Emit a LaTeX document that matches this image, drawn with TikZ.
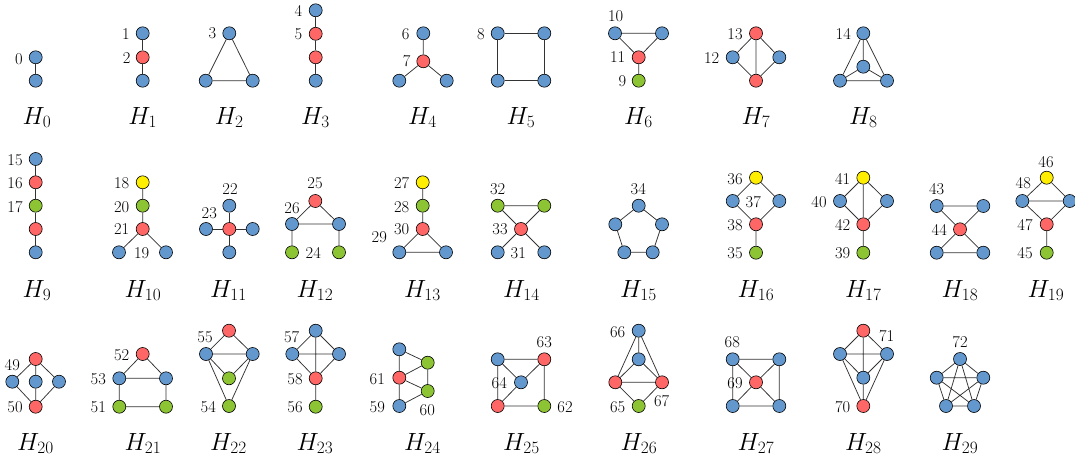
\documentclass[tikz,border=0pt]{standalone}
\definecolor{nblue}{RGB}{99,152,206}
\definecolor{nred}{RGB}{255,102,102}
\definecolor{ngreen}{RGB}{141,196,52}
\definecolor{nyellow}{RGB}{255,238,0}
\begin{document}
\begin{tikzpicture}[x=1pt,y=-1pt,
  vx/.style={circle,draw=black,line width=0.6pt,minimum size=13pt,inner sep=0pt},
  bl/.style={vx,fill=nblue},
  rd/.style={vx,fill=nred},
  gr/.style={vx,fill=ngreen},
  yl/.style={vx,fill=nyellow},
  ed/.style={draw=black!80,line width=0.75pt},
  nl/.style={inner sep=0pt,font=\fontsize{16.5}{17}\selectfont},
  hl/.style={inner sep=0pt,anchor=base,font=\fontsize{25}{25}\selectfont}]
\useasboundingbox (0,0) rectangle (1075,460);
% ---------- Row 1 ----------
% H0
\node[bl] (h0a) at (35.7,57.3) {}; \node[bl] (h0b) at (35.7,80.7) {};
\draw[ed] (h0a)--(h0b);
\node[nl] (l0) at (19,59.3) {0};
\node[hl] (H0) at (37,124) {$H_{0}$};
% H1
\node[bl] (h1a) at (142.7,33.3) {}; \node[rd] (h1b) at (142.7,57.3) {}; \node[bl] (h1c) at (142.7,80.7) {};
\draw[ed] (h1a)--(h1b)--(h1c);
\node[nl] (l1) at (126,34) {1}; \node[nl] (l2) at (126.7,58.3) {2};
\node[hl] (H1) at (142.7,124) {$H_{1}$};
% H2
\node[bl] (h2a) at (229.3,33.3) {}; \node[bl] (h2b) at (205.7,80.7) {}; \node[bl] (h2c) at (252.7,80.7) {};
\draw[ed] (h2a)--(h2b)--(h2c)--(h2a);
\node[nl] (l3) at (212.3,33.3) {3};
\node[hl] (H2) at (229.3,124) {$H_{2}$};
% H3
\node[bl] (h3a) at (315.7,10.3) {}; \node[rd] (h3b) at (315.7,33.8) {}; \node[rd] (h3c) at (315.7,57.3) {}; \node[bl] (h3d) at (315.7,80.7) {};
\draw[ed] (h3a)--(h3b)--(h3c)--(h3d);
\node[nl] (l4) at (298.3,10.7) {4}; \node[nl] (l5) at (298.3,34.3) {5};
\node[hl] (H3) at (315.5,124) {$H_{3}$};
% H4
\node[bl] (h4a) at (423.3,33.3) {}; \node[rd] (h4b) at (423.3,61.3) {}; \node[bl] (h4c) at (399.3,80.7) {}; \node[bl] (h4d) at (446.7,80.7) {};
\draw[ed] (h4a)--(h4b) (h4b)--(h4c) (h4b)--(h4d);
\node[nl] (l6) at (405.7,34.3) {6}; \node[nl] (l7) at (406.7,61) {7};
\node[hl] (H4) at (422.5,124) {$H_{4}$};
% H5
\node[bl] (h5a) at (497.7,33.3) {}; \node[bl] (h5b) at (544.3,33.3) {}; \node[bl] (h5c) at (544.3,80.7) {}; \node[bl] (h5d) at (497.7,80.7) {};
\draw[ed] (h5a)--(h5b)--(h5c)--(h5d)--(h5a);
\node[nl] (l8) at (481,34.3) {8};
\node[hl] (H5) at (521,124) {$H_{5}$};
% H6
\node[bl] (h6a) at (615,33.3) {}; \node[bl] (h6b) at (662,33.3) {}; \node[rd] (h6c) at (638.7,57.3) {}; \node[gr] (h6d) at (638.7,80.7) {};
\draw[ed] (h6a)--(h6b)--(h6c)--(h6a) (h6c)--(h6d);
\node[nl] (l10) at (615.7,16) {10}; \node[nl] (l11) at (617.7,57.3) {11}; \node[nl] (l9) at (622.3,80.7) {9};
\node[hl] (H6) at (638.5,124) {$H_{6}$};
% H7
\node[rd] (h7a) at (756,33.3) {}; \node[bl] (h7b) at (732.7,57.3) {}; \node[bl] (h7c) at (779.3,57.3) {}; \node[rd] (h7d) at (756,80.7) {};
\draw[ed] (h7a)--(h7b)--(h7d)--(h7c)--(h7a)--(h7d);
\node[nl] (l13) at (735,34.3) {13}; \node[nl] (l12) at (711.7,58.3) {12};
\node[hl] (H7) at (756,124) {$H_{7}$};
% H8
\node[bl] (h8a) at (863.3,33.3) {}; \node[bl] (h8b) at (863.3,66.7) {}; \node[bl] (h8c) at (840,80.7) {}; \node[bl] (h8d) at (887,80.7) {};
\draw[ed] (h8a)--(h8c)--(h8d)--(h8a)--(h8b) (h8b)--(h8c) (h8b)--(h8d);
\node[nl] (l14) at (843.3,34.3) {14};
\node[hl] (H8) at (863.3,124) {$H_{8}$};
% ---------- Row 2 ----------
% H9
\node[bl] (h9a) at (35.7,159) {}; \node[rd] (h9b) at (35.7,182.3) {}; \node[gr] (h9c) at (35.7,205.7) {}; \node[rd] (h9d) at (35.7,229) {}; \node[bl] (h9e) at (35.7,252.3) {};
\draw[ed] (h9a)--(h9b)--(h9c)--(h9d)--(h9e);
\node[nl] (l15) at (15,160) {15}; \node[nl] (l16) at (15,182.7) {16}; \node[nl] (l17) at (15,206.7) {17};
\node[hl] (H9) at (37,297) {$H_{9}$};
% H10
\node[yl] (h10a) at (142.7,182.3) {}; \node[gr] (h10b) at (142.7,205.7) {}; \node[rd] (h10c) at (142.7,229) {}; \node[bl] (h10d) at (119,252.3) {}; \node[bl] (h10e) at (166,252.3) {};
\draw[ed] (h10a)--(h10b)--(h10c)--(h10d) (h10c)--(h10e);
\node[nl] (l18) at (121.7,182.7) {18}; \node[nl] (l20) at (121.7,206.7) {20}; \node[nl] (l21) at (121.7,229.3) {21}; \node[nl] (l19) at (141.7,252.7) {19};
\node[hl] (H10) at (143,297) {$H_{10}$};
% H11
\node[rd] (h11c) at (229.3,229) {}; \node[bl] (h11t) at (229.3,205.7) {}; \node[bl] (h11b) at (229.3,252.3) {}; \node[bl] (h11l) at (206,229) {}; \node[bl] (h11r) at (252.7,229) {};
\draw[ed] (h11c)--(h11t) (h11c)--(h11b) (h11c)--(h11l) (h11c)--(h11r);
\node[nl] (l22) at (230,189.3) {22}; \node[nl] (l23) at (209.3,213.3) {23};
\node[hl] (H11) at (228.5,297) {$H_{11}$};
% H12
\node[rd] (h12a) at (315.3,201) {}; \node[bl] (h12b) at (292,224) {}; \node[bl] (h12c) at (339,224) {}; \node[gr] (h12d) at (292,252.3) {}; \node[gr] (h12e) at (339,252.3) {};
\draw[ed] (h12a)--(h12b)--(h12c)--(h12a) (h12b)--(h12d) (h12c)--(h12e);
\node[nl] (l25) at (315,183.3) {25}; \node[nl] (l26) at (292,207.7) {26}; \node[nl] (l24) at (313.3,252.7) {24};
\node[hl] (H12) at (315,297) {$H_{12}$};
% H13
\node[yl] (h13a) at (422.7,182.3) {}; \node[gr] (h13b) at (422.7,205.7) {}; \node[rd] (h13c) at (422.7,229) {}; \node[bl] (h13d) at (399.3,252.3) {}; \node[bl] (h13e) at (446,252.3) {};
\draw[ed] (h13a)--(h13b)--(h13c)--(h13d)--(h13e)--(h13c);
\node[nl] (l27) at (401.7,182.7) {27}; \node[nl] (l28) at (401.7,206.7) {28}; \node[nl] (l30) at (401.7,229.3) {30}; \node[nl] (l29) at (379.3,236.7) {29};
\node[hl] (H13) at (422.5,297) {$H_{13}$};
% H14
\node[gr] (h14a) at (497.7,205.7) {}; \node[gr] (h14b) at (544.3,205.7) {}; \node[rd] (h14c) at (521,229) {}; \node[bl] (h14d) at (497.7,252.3) {}; \node[bl] (h14e) at (544.3,252.3) {};
\draw[ed] (h14a)--(h14b)--(h14c)--(h14a) (h14c)--(h14d) (h14c)--(h14e);
\node[nl] (l32) at (497.7,189.3) {32}; \node[nl] (l33) at (500,229.3) {33}; \node[nl] (l31) at (518.3,252.7) {31};
\node[hl] (H14) at (521.5,297) {$H_{14}$};
% H15
\node[bl] (h15a) at (638.7,205.7) {}; \node[bl] (h15b) at (662,224.3) {}; \node[bl] (h15c) at (652.7,252.3) {}; \node[bl] (h15d) at (624.3,252.3) {}; \node[bl] (h15e) at (615.3,224.3) {};
\draw[ed] (h15a)--(h15b)--(h15c)--(h15d)--(h15e)--(h15a);
\node[nl] (l34) at (638.3,189.3) {34};
\node[hl] (H15) at (638.5,297) {$H_{15}$};
% H16
\node[yl] (h16a) at (756,177.7) {}; \node[bl] (h16b) at (732.7,201) {}; \node[bl] (h16c) at (779.3,201) {}; \node[rd] (h16d) at (756,224.3) {}; \node[gr] (h16e) at (756,252.7) {};
\draw[ed] (h16a)--(h16b)--(h16d)--(h16c)--(h16a) (h16d)--(h16e);
\node[nl] (l36) at (735,179.3) {36}; \node[nl] (l37) at (753.3,201.7) {37}; \node[nl] (l38) at (735,225) {38}; \node[nl] (l35) at (735,253.3) {35};
\node[hl] (H16) at (756,297) {$H_{16}$};
% H17
\node[yl] (h17a) at (863.3,177.7) {}; \node[bl] (h17b) at (840,201) {}; \node[bl] (h17c) at (887,201) {}; \node[rd] (h17d) at (863.3,224.3) {}; \node[gr] (h17e) at (863.3,252.7) {};
\draw[ed] (h17a)--(h17b)--(h17d)--(h17c)--(h17a)--(h17d)--(h17e);
\node[nl] (l41) at (842.7,179.3) {41}; \node[nl] (l40) at (819,201.7) {40}; \node[nl] (l42) at (842.7,225) {42}; \node[nl] (l39) at (842.7,253.3) {39};
\node[hl] (H17) at (863.3,297) {$H_{17}$};
% H18
\node[bl] (h18a) at (936.7,206) {}; \node[bl] (h18b) at (983.3,206) {}; \node[rd] (h18c) at (960,229.3) {}; \node[bl] (h18d) at (936.7,252.7) {}; \node[bl] (h18e) at (983.3,252.7) {};
\draw[ed] (h18a)--(h18b)--(h18c)--(h18a) (h18c)--(h18d)--(h18e)--(h18c);
\node[nl] (l43) at (936.7,189.3) {43}; \node[nl] (l44) at (939.3,230) {44};
\node[hl] (H18) at (960,297) {$H_{18}$};
% H19
\node[yl] (h19a) at (1046.7,177.7) {}; \node[bl] (h19b) at (1022.3,201) {}; \node[bl] (h19c) at (1069.7,201) {}; \node[rd] (h19d) at (1046.7,224.3) {}; \node[gr] (h19e) at (1046.7,252.7) {};
\draw[ed] (h19a)--(h19b)--(h19c)--(h19a) (h19b)--(h19d)--(h19c) (h19d)--(h19e);
\node[nl] (l46) at (1046,161.7) {46}; \node[nl] (l48) at (1023.3,183.3) {48}; \node[nl] (l47) at (1025,225) {47}; \node[nl] (l45) at (1025,253.3) {45};
\node[hl] (H19) at (1046,297) {$H_{19}$};
% ---------- Row 3 ----------
% H20
\node[rd] (h20a) at (35.7,359) {}; \node[bl] (h20b) at (12.3,381.7) {}; \node[bl] (h20c) at (35.7,381.7) {}; \node[bl] (h20d) at (59,381.7) {}; \node[rd] (h20e) at (35.7,406.7) {};
\draw[ed] (h20a)--(h20b)--(h20e)--(h20d)--(h20a)--(h20c)--(h20e);
\node[nl] (l49) at (12.3,365) {49}; \node[nl] (l50) at (15,407.3) {50};
\node[hl] (H20) at (35.5,450) {$H_{20}$};
% H21
\node[rd] (h21a) at (142.7,354) {}; \node[bl] (h21b) at (119.3,378.3) {}; \node[bl] (h21c) at (166,378.3) {}; \node[gr] (h21d) at (119.3,406.7) {}; \node[gr] (h21e) at (166,406.7) {};
\draw[ed] (h21a)--(h21b)--(h21c)--(h21a) (h21b)--(h21d)--(h21e)--(h21c);
\node[nl] (l52) at (121.7,355) {52}; \node[nl] (l53) at (98.3,379.3) {53}; \node[nl] (l51) at (98.3,407.3) {51};
\node[hl] (H21) at (143,450) {$H_{21}$};
% H22
\node[rd] (h22a) at (229,330.7) {}; \node[bl] (h22b) at (206,354) {}; \node[bl] (h22c) at (252.7,354) {}; \node[gr] (h22d) at (229,378.3) {}; \node[gr] (h22e) at (229,406) {};
\draw[ed] (h22a)--(h22b)--(h22c)--(h22a) (h22b)--(h22d)--(h22c) (h22b)--(h22e)--(h22c);
\node[nl] (l55) at (205,336.7) {55}; \node[nl] (l54) at (208.3,406.7) {54};
\node[hl] (H22) at (228.5,450) {$H_{22}$};
% H23
\node[bl] (h23a) at (315.7,330.7) {}; \node[bl] (h23b) at (292.3,354) {}; \node[bl] (h23c) at (339,354) {}; \node[rd] (h23d) at (315.7,378.3) {}; \node[gr] (h23e) at (315.7,406.7) {};
\draw[ed] (h23a)--(h23b)--(h23d)--(h23c)--(h23a)--(h23d)--(h23e) (h23b)--(h23c);
\node[nl] (l57) at (291.7,336.7) {57}; \node[nl] (l58) at (295,379.3) {58}; \node[nl] (l56) at (295,407.3) {56};
\node[hl] (H23) at (315,450) {$H_{23}$};
% H24
\node[bl] (h24a) at (399.3,349.3) {}; \node[rd] (h24b) at (399.3,377.7) {}; \node[bl] (h24c) at (399.3,406) {}; \node[gr] (h24d) at (427.7,362.7) {}; \node[gr] (h24e) at (427.7,391) {};
\draw[ed] (h24a)--(h24b)--(h24c)--(h24e)--(h24d)--(h24a) (h24b)--(h24d) (h24b)--(h24e);
\node[nl] (l61) at (377.3,379.3) {61}; \node[nl] (l59) at (377.3,407.3) {59}; \node[nl] (l60) at (427.3,410) {60};
\node[hl] (H24) at (422.5,450) {$H_{24}$};
% H25
\node[bl] (h25a) at (497.7,359.3) {}; \node[rd] (h25b) at (544.3,359.3) {}; \node[bl] (h25c) at (521,382.3) {}; \node[rd] (h25d) at (497.7,406) {}; \node[gr] (h25e) at (544.3,406) {};
\draw[ed] (h25a)--(h25b)--(h25e)--(h25d)--(h25a)--(h25c)--(h25b) (h25c)--(h25d);
\node[nl] (l63) at (544.3,342.3) {63}; \node[nl] (l64) at (499.3,382.7) {64}; \node[nl] (l62) at (565,406.7) {62};
\node[hl] (H25) at (521.5,450) {$H_{25}$};
% H26
\node[bl] (h26a) at (638.7,330.7) {}; \node[bl] (h26b) at (638.7,359.3) {}; \node[rd] (h26c) at (615.3,382.3) {}; \node[rd] (h26d) at (662,382.3) {}; \node[gr] (h26e) at (638.7,406) {};
\draw[ed] (h26a)--(h26b) (h26a)--(h26c)--(h26d)--(h26a) (h26b)--(h26c) (h26b)--(h26d) (h26c)--(h26e)--(h26d);
\node[nl] (l66) at (617.7,332.3) {66}; \node[nl] (l65) at (617.7,407.3) {65}; \node[nl] (l67) at (661.7,400.7) {67};
\node[hl] (H26) at (639,450) {$H_{26}$};
% H27
\node[bl] (h27a) at (732.7,359.3) {}; \node[bl] (h27b) at (779.3,359.3) {}; \node[rd] (h27c) at (756,382.3) {}; \node[bl] (h27d) at (732.7,406) {}; \node[bl] (h27e) at (779.3,406) {};
\draw[ed] (h27a)--(h27b)--(h27e)--(h27d)--(h27a) (h27a)--(h27c)--(h27e) (h27b)--(h27c)--(h27d);
\node[nl] (l68) at (732.3,342.3) {68}; \node[nl] (l69) at (735,382.7) {69};
\node[hl] (H27) at (756,450) {$H_{27}$};
% H28
\node[rd] (h28a) at (863.3,330.7) {}; \node[bl] (h28b) at (840,354) {}; \node[bl] (h28c) at (887,354) {}; \node[bl] (h28d) at (863.3,377.7) {}; \node[rd] (h28e) at (863.3,406) {};
\draw[ed] (h28a)--(h28b)--(h28c)--(h28a)--(h28d)--(h28e) (h28b)--(h28d)--(h28c) (h28b)--(h28e)--(h28c);
\node[nl] (l71) at (886.7,336) {71}; \node[nl] (l70) at (842.7,406.7) {70};
\node[hl] (H28) at (863.3,450) {$H_{28}$};
% H29
\node[bl] (h29a) at (960,359) {}; \node[bl] (h29b) at (983.3,377.7) {}; \node[bl] (h29c) at (974,406) {}; \node[bl] (h29d) at (946,406) {}; \node[bl] (h29e) at (936.7,377.7) {};
\draw[ed] (h29a)--(h29b)--(h29c)--(h29d)--(h29e)--(h29a)--(h29c)--(h29e)--(h29b)--(h29d)--(h29a);
\node[nl] (l72) at (960,342.3) {72};
\node[hl] (H29) at (960,450) {$H_{29}$};
\end{tikzpicture}
\end{document}
